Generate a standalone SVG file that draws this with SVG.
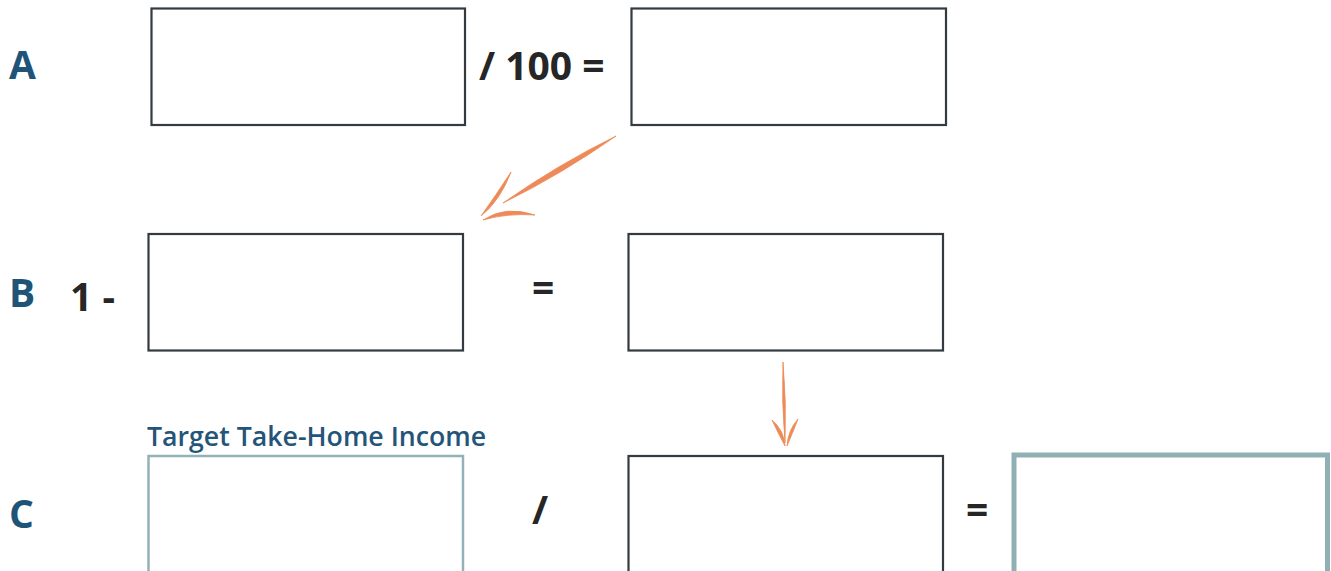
<svg xmlns="http://www.w3.org/2000/svg" width="1331" height="571" viewBox="0 0 1331 571">
<style>
.lbl{font-family:"Open Sans","Liberation Sans",sans-serif;font-weight:700;fill:#1f5479;font-size:39px}
.op{font-family:"Open Sans","Liberation Sans",sans-serif;font-weight:700;fill:#262626;font-size:39px}
.box{fill:#fff;stroke:#333b40;stroke-width:2.2}
.tbox{fill:#fff;stroke:#93b2b7;stroke-width:2.5}
.tbox2{fill:#fff;stroke:#8fb0b5;stroke-width:5}
.cap{font-family:"Open Sans","Liberation Sans",sans-serif;font-weight:600;fill:#245579;font-size:26.7px}
.arr{fill:#ee8a58;stroke:#ee8a58;stroke-width:0.8;stroke-linejoin:round}
</style>
<rect width="1331" height="571" fill="#fff"/>
<g id="rowA">
<text class="lbl" x="9" y="79">A</text>
<g id="boxA1"><rect class="box" x="151.5" y="8.5" width="313.5" height="116.5"/></g>
<text class="op" x="479" y="80">/ 100 =</text>
<g id="boxA2"><rect class="box" x="631.5" y="8.5" width="314.5" height="116.5"/></g>
</g>
<g id="rowB">
<text class="lbl" x="9" y="307">B</text>
<text class="op" x="70" y="311">1 -</text>
<g id="boxB1"><rect class="box" x="148.5" y="234" width="314.5" height="116.5"/></g>
<text class="op" x="532" y="302">=</text>
<g id="boxB2"><rect class="box" x="628.5" y="234" width="314.5" height="116.5"/></g>
</g>
<g id="rowC">
<text class="lbl" x="9" y="528">C</text>
<text class="cap" x="147" y="446">Target Take-Home Income</text>
<g id="boxC1"><rect class="tbox" x="148.5" y="456" width="314.5" height="130"/></g>
<text class="op" x="532" y="524">/</text>
<g id="boxC2"><rect class="box" x="628.5" y="456" width="314.5" height="130"/></g>
<text class="op" x="966" y="524">=</text>
<g id="boxC3"><rect class="tbox2" x="1014" y="455" width="313.5" height="130"/></g>
</g>
<g id="connectors">
<path class="arr" d="M616,136 Q562,174 503,203 Q557,165 616,136 Z"/>
<path class="arr" d="M511,172 Q500,201 481,216 Q496,195 511,172 Z"/>
<path class="arr" d="M483,220 Q506,205 535,215 Q507,213 483,220 Z"/>
<path class="arr" d="M783,362 Q786.5,402 785,443 Q781.5,402 783,362 Z"/>
<path class="arr" d="M772,420 Q784,430 785,446 Q778,433 772,420 Z"/>
<path class="arr" d="M798,419 Q788,430 787,446 Q793,432 798,419 Z"/>
</g>
</svg>
